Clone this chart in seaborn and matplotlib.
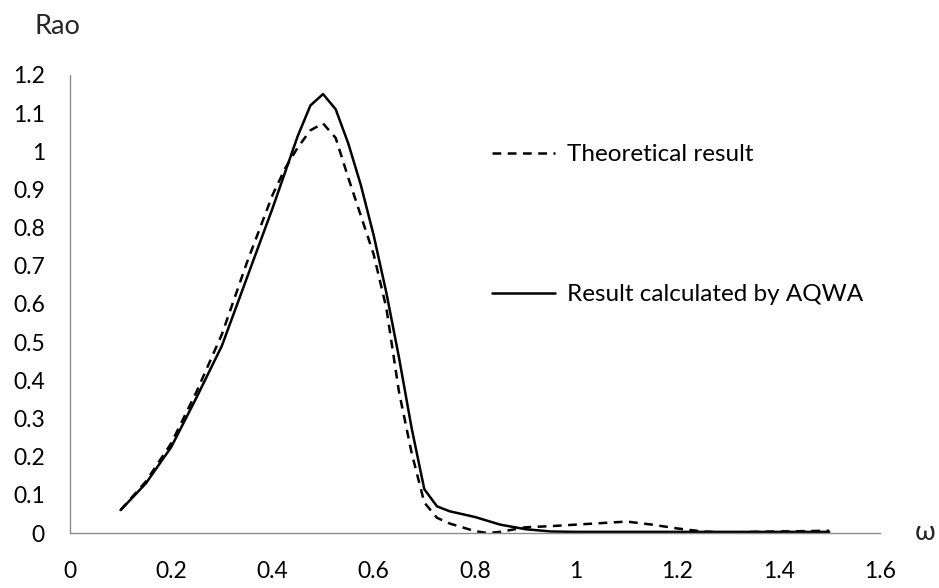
import numpy as np
import pandas as pd
import seaborn as sns
import matplotlib
matplotlib.use("Agg")
import matplotlib.pyplot as plt

# Frequency (rad/s) and response amplitude operator values
omega_theory = [0.1, 0.15, 0.2, 0.25, 0.3, 0.35, 0.4, 0.425, 0.45, 0.475, 0.5, 0.525,
                0.55, 0.575, 0.6, 0.625, 0.65, 0.675, 0.7, 0.725, 0.75, 0.8, 0.825,
                0.85, 0.9, 0.95, 1.0, 1.05, 1.1, 1.15, 1.2, 1.25, 1.3, 1.35, 1.4,
                1.45, 1.5]
rao_theory = [0.06, 0.135, 0.235, 0.37, 0.52, 0.71, 0.885, 0.955, 1.01, 1.055, 1.073, 1.035,
              0.93, 0.83, 0.73, 0.59, 0.37, 0.21, 0.08, 0.04, 0.025, 0.005, 0.0,
              0.003, 0.015, 0.018, 0.022, 0.026, 0.03, 0.022, 0.012, 0.004, 0.001,
              0.003, 0.004, 0.005, 0.006]

omega_aqwa = [0.1, 0.15, 0.2, 0.25, 0.3, 0.35, 0.4, 0.425, 0.45, 0.475, 0.5, 0.525,
              0.55, 0.575, 0.6, 0.625, 0.65, 0.675, 0.7, 0.725, 0.75, 0.8, 0.85,
              0.9, 0.95, 1.0, 1.1, 1.2, 1.3, 1.4, 1.5]
rao_aqwa = [0.06, 0.13, 0.225, 0.355, 0.49, 0.67, 0.85, 0.945, 1.04, 1.12, 1.15, 1.11,
            1.02, 0.91, 0.78, 0.63, 0.46, 0.275, 0.115, 0.07, 0.057, 0.042, 0.022,
            0.01, 0.004, 0.003, 0.003, 0.003, 0.003, 0.003, 0.003]

label_theory = "Theoretical result"
label_aqwa = "Result calculated by AQWA"

df = pd.concat([
    pd.DataFrame({"omega": omega_theory, "rao": rao_theory, "series": label_theory}),
    pd.DataFrame({"omega": omega_aqwa, "rao": rao_aqwa, "series": label_aqwa}),
], ignore_index=True)

sns.set_theme(style="white")
plt.rcParams["font.family"] = ["Lato", "DejaVu Sans"]

fig = plt.figure(figsize=(9.39, 5.88), dpi=100)
ax = fig.add_axes([0.0745, 0.0935, 0.8625, 0.779])

sns.lineplot(data=df, x="omega", y="rao", style="series",
             style_order=[label_theory, label_aqwa],
             dashes={label_theory: (3.5, 2.6), label_aqwa: ""},
             color="black", linewidth=1.8, sort=False, ax=ax)

ax.set_xlim(0, 1.6)
ax.set_ylim(0, 1.2)
ax.set_xticks(np.arange(0, 1.61, 0.2))
ax.set_xticklabels(["0", "0.2", "0.4", "0.6", "0.8", "1", "1.2", "1.4", "1.6"])
ax.set_yticks(np.arange(0, 1.21, 0.1))
ax.set_yticklabels(["0", "0.1", "0.2", "0.3", "0.4", "0.5", "0.6", "0.7", "0.8",
                    "0.9", "1", "1.1", "1.2"])
ax.tick_params(axis="both", length=0, labelsize=16.5, colors="black")
ax.tick_params(axis="x", pad=20)
ax.tick_params(axis="y", pad=18)
ax.set_xlabel("")
ax.set_ylabel("")

for side in ("top", "right"):
    ax.spines[side].set_visible(False)
for side in ("left", "bottom"):
    ax.spines[side].set_color("#8c8c8c")
    ax.spines[side].set_linewidth(1.0)

leg = ax.legend(loc="upper left", bbox_to_anchor=(0.5085, 0.87), frameon=False,
                fontsize=17.5, handlelength=2.6, handletextpad=0.5,
                labelspacing=4.9, borderaxespad=0)
for line in leg.get_lines():
    line.set_linewidth(1.8)
for t in leg.get_texts():
    t.set_color("black")

fig.text(57 / 939, 1 - 26 / 588, "Rao", fontsize=19.5, ha="center", va="center")
fig.text(925 / 939, 1 - 532 / 588, "ω", fontsize=19.5, ha="center", va="center")

fig.savefig("out.png", dpi=100, facecolor="white")
